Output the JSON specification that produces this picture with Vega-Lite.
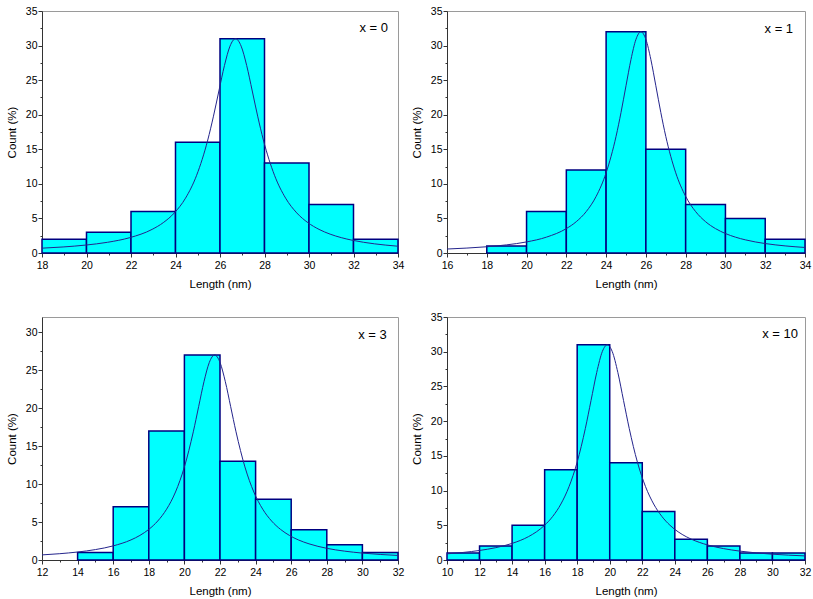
{
  "$schema": "https://vega.github.io/schema/vega-lite/v6.json",
  "background": "white",
  "padding": {"left": 5, "top": 5, "right": 5, "bottom": 5},
  "columns": 2,
  "spacing": {"row": 64, "column": 49},
  "bounds": "flush",
  "datasets": {
    "bars0": [
      {"start": 18, "end": 20, "count": 2}, {"start": 20, "end": 22, "count": 3}, {"start": 22, "end": 24, "count": 6},
      {"start": 24, "end": 26, "count": 16}, {"start": 26, "end": 28, "count": 31}, {"start": 28, "end": 30, "count": 13},
      {"start": 30, "end": 32, "count": 7}, {"start": 32, "end": 34, "count": 2}
    ],
    "fit0": [
      {"length": 18, "fit": 0.70}, {"length": 18.95, "fit": 0.874}, {"length": 19.95, "fit": 1.142}, {"length": 20.95, "fit": 1.552},
      {"length": 21.95, "fit": 2.222}, {"length": 22.95, "fit": 3.418}, {"length": 23.45, "fit": 4.389}, {"length": 23.95, "fit": 5.80},
      {"length": 24.45, "fit": 7.93}, {"length": 24.95, "fit": 11.24}, {"length": 25.45, "fit": 16.34}, {"length": 25.7, "fit": 19.69},
      {"length": 25.95, "fit": 23.43}, {"length": 26.2, "fit": 27.11}, {"length": 26.45, "fit": 29.92}, {"length": 26.7, "fit": 31},
      {"length": 26.95, "fit": 29.92}, {"length": 27.2, "fit": 27.11}, {"length": 27.45, "fit": 23.43}, {"length": 27.7, "fit": 19.69},
      {"length": 27.95, "fit": 16.34}, {"length": 28.45, "fit": 11.24}, {"length": 28.95, "fit": 7.93}, {"length": 29.45, "fit": 5.80},
      {"length": 29.95, "fit": 4.389}, {"length": 30.45, "fit": 3.418}, {"length": 30.95, "fit": 2.727}, {"length": 31.45, "fit": 2.222},
      {"length": 31.95, "fit": 1.844}, {"length": 32.45, "fit": 1.552}, {"length": 32.95, "fit": 1.323}, {"length": 33.45, "fit": 1.142},
      {"length": 34, "fit": 0.98}
    ],
    "bars1": [
      {"start": 18, "end": 20, "count": 1}, {"start": 20, "end": 22, "count": 6}, {"start": 22, "end": 24, "count": 12},
      {"start": 24, "end": 26, "count": 32}, {"start": 26, "end": 28, "count": 15}, {"start": 28, "end": 30, "count": 7},
      {"start": 30, "end": 32, "count": 5}, {"start": 32, "end": 34, "count": 2}
    ],
    "fit1": [
      {"length": 16, "fit": 0.576}, {"length": 17, "fit": 0.712}, {"length": 18, "fit": 0.902}, {"length": 19, "fit": 1.179},
      {"length": 20, "fit": 1.602}, {"length": 21, "fit": 2.294}, {"length": 22, "fit": 3.528}, {"length": 22.5, "fit": 4.531},
      {"length": 23, "fit": 5.99}, {"length": 23.5, "fit": 8.19}, {"length": 24, "fit": 11.60}, {"length": 24.5, "fit": 16.87},
      {"length": 24.75, "fit": 20.33}, {"length": 25, "fit": 24.19}, {"length": 25.25, "fit": 27.98}, {"length": 25.5, "fit": 30.89},
      {"length": 25.75, "fit": 32}, {"length": 26, "fit": 30.89}, {"length": 26.25, "fit": 27.98}, {"length": 26.5, "fit": 24.19},
      {"length": 26.75, "fit": 20.33}, {"length": 27, "fit": 16.87}, {"length": 27.5, "fit": 11.60}, {"length": 28, "fit": 8.19},
      {"length": 28.5, "fit": 5.99}, {"length": 29, "fit": 4.531}, {"length": 29.5, "fit": 3.528}, {"length": 30, "fit": 2.815},
      {"length": 30.5, "fit": 2.294}, {"length": 31, "fit": 1.903}, {"length": 31.5, "fit": 1.602}, {"length": 32, "fit": 1.366},
      {"length": 32.5, "fit": 1.179}, {"length": 33, "fit": 1.027}, {"length": 33.5, "fit": 0.902}, {"length": 34, "fit": 0.799}
    ],
    "bars3": [
      {"start": 14, "end": 16, "count": 1}, {"start": 16, "end": 18, "count": 7}, {"start": 18, "end": 20, "count": 17},
      {"start": 20, "end": 22, "count": 27}, {"start": 22, "end": 24, "count": 13}, {"start": 24, "end": 26, "count": 8},
      {"start": 26, "end": 28, "count": 4}, {"start": 28, "end": 30, "count": 2}, {"start": 30, "end": 32, "count": 1}
    ],
    "fit3": [
      {"length": 12, "fit": 0.672}, {"length": 13, "fit": 0.831}, {"length": 14, "fit": 1.051}, {"length": 15, "fit": 1.372},
      {"length": 16, "fit": 1.859}, {"length": 17, "fit": 2.648}, {"length": 17.5, "fit": 3.237}, {"length": 18, "fit": 4.031},
      {"length": 18.5, "fit": 5.131}, {"length": 19, "fit": 6.693}, {"length": 19.5, "fit": 8.955}, {"length": 20, "fit": 12.26},
      {"length": 20.5, "fit": 16.88}, {"length": 20.8, "fit": 20.19}, {"length": 21.1, "fit": 23.48}, {"length": 21.4, "fit": 26.02},
      {"length": 21.7, "fit": 27}, {"length": 22.0, "fit": 26.02}, {"length": 22.3, "fit": 23.48}, {"length": 22.6, "fit": 20.19},
      {"length": 22.9, "fit": 16.88}, {"length": 23.4, "fit": 12.26}, {"length": 23.9, "fit": 8.955}, {"length": 24.4, "fit": 6.693},
      {"length": 24.9, "fit": 5.131}, {"length": 25.4, "fit": 4.031}, {"length": 25.9, "fit": 3.237}, {"length": 26.4, "fit": 2.648},
      {"length": 27, "fit": 2.128}, {"length": 28, "fit": 1.541}, {"length": 29, "fit": 1.165}, {"length": 30, "fit": 0.910},
      {"length": 31, "fit": 0.730}, {"length": 32, "fit": 0.598}
    ],
    "bars10": [
      {"start": 10, "end": 12, "count": 1}, {"start": 12, "end": 14, "count": 2}, {"start": 14, "end": 16, "count": 5},
      {"start": 16, "end": 18, "count": 13}, {"start": 18, "end": 20, "count": 31}, {"start": 20, "end": 22, "count": 14},
      {"start": 22, "end": 24, "count": 7}, {"start": 24, "end": 26, "count": 3}, {"start": 26, "end": 28, "count": 2},
      {"start": 28, "end": 30, "count": 1}, {"start": 30, "end": 32, "count": 1}
    ],
    "fit10": [
      {"length": 10, "fit": 0.886}, {"length": 11, "fit": 1.091}, {"length": 12, "fit": 1.373}, {"length": 13, "fit": 1.779},
      {"length": 14, "fit": 2.388}, {"length": 15, "fit": 3.356}, {"length": 15.5, "fit": 4.065}, {"length": 16, "fit": 5.008},
      {"length": 16.5, "fit": 6.289}, {"length": 17, "fit": 8.065}, {"length": 17.5, "fit": 10.57}, {"length": 18, "fit": 14.10},
      {"length": 18.5, "fit": 18.93}, {"length": 18.85, "fit": 22.96}, {"length": 19.2, "fit": 27.0}, {"length": 19.55, "fit": 30.05},
      {"length": 19.85, "fit": 31}, {"length": 20.15, "fit": 30.05}, {"length": 20.5, "fit": 27.0}, {"length": 20.85, "fit": 22.96},
      {"length": 21.2, "fit": 18.93}, {"length": 21.7, "fit": 14.10}, {"length": 22.2, "fit": 10.57}, {"length": 22.7, "fit": 8.065},
      {"length": 23.2, "fit": 6.289}, {"length": 23.7, "fit": 5.008}, {"length": 24.2, "fit": 4.065}, {"length": 24.7, "fit": 3.356},
      {"length": 25, "fit": 3.013}, {"length": 26, "fit": 2.177}, {"length": 27, "fit": 1.640}, {"length": 28, "fit": 1.278},
      {"length": 29, "fit": 1.023}, {"length": 30, "fit": 0.836}, {"length": 31, "fit": 0.696}, {"length": 32, "fit": 0.588}
    ]
  },
  "concat": [
    {
      "width": 356, "height": 242,
      "layer": [
        {
          "data": {"name": "bars0"},
          "mark": {"type": "bar", "fill": "#00FFFF", "stroke": "#000080", "strokeWidth": 1.5},
          "encoding": {
            "x": {"field": "start", "type": "quantitative", "title": "Length (nm)", "scale": {"domain": [18, 34], "nice": false, "zero": false},
                  "axis": {"values": [18,19,20,21,22,23,24,25,26,27,28,29,30,31,32,33,34], "labelExpr": "datum.value % 2 == 0 ? datum.label : ''", "tickSize": {"condition": {"test": "datum.value % 2 != 0", "value": 2}, "value": 4}}},
            "x2": {"field": "end"},
            "y": {"field": "count", "type": "quantitative", "title": "Count (%)", "scale": {"domain": [0, 35], "nice": false},
                  "axis": {"values": [0,2.5,5,7.5,10,12.5,15,17.5,20,22.5,25,27.5,30,32.5,35], "labelExpr": "datum.value % 5 == 0 ? datum.label : ''", "tickSize": {"condition": {"test": "datum.value % 5 != 0", "value": 2}, "value": 4}}},
            "y2": {"datum": 0}
          }
        },
        {
          "data": {"name": "fit0"},
          "mark": {"type": "line", "interpolate": "monotone", "color": "#24248c", "strokeWidth": 1},
          "encoding": {
            "x": {"field": "length", "type": "quantitative", "title": "Length (nm)",
                  "axis": {"values": [18,19,20,21,22,23,24,25,26,27,28,29,30,31,32,33,34], "labelExpr": "datum.value % 2 == 0 ? datum.label : ''", "tickSize": {"condition": {"test": "datum.value % 2 != 0", "value": 2}, "value": 4}}},
            "y": {"field": "fit", "type": "quantitative", "title": "Count (%)",
                  "axis": {"values": [0,2.5,5,7.5,10,12.5,15,17.5,20,22.5,25,27.5,30,32.5,35], "labelExpr": "datum.value % 5 == 0 ? datum.label : ''", "tickSize": {"condition": {"test": "datum.value % 5 != 0", "value": 2}, "value": 4}}}
          }
        },
        {
          "data": {"values": [{"label": "x = 0"}]},
          "mark": {"type": "text", "align": "right", "baseline": "middle", "fontSize": 13, "font": "Liberation Sans", "color": "#000"},
          "encoding": {
            "x": {"datum": 33.55, "type": "quantitative", "title": "Length (nm)",
                  "axis": {"values": [18,19,20,21,22,23,24,25,26,27,28,29,30,31,32,33,34], "labelExpr": "datum.value % 2 == 0 ? datum.label : ''", "tickSize": {"condition": {"test": "datum.value % 2 != 0", "value": 2}, "value": 4}}},
            "y": {"datum": 32.5, "type": "quantitative", "title": "Count (%)",
                  "axis": {"values": [0,2.5,5,7.5,10,12.5,15,17.5,20,22.5,25,27.5,30,32.5,35], "labelExpr": "datum.value % 5 == 0 ? datum.label : ''", "tickSize": {"condition": {"test": "datum.value % 5 != 0", "value": 2}, "value": 4}}},
            "text": {"field": "label"}
          }
        }
      ]
    },
    {
      "width": 358, "height": 242,
      "layer": [
        {
          "data": {"name": "bars1"},
          "mark": {"type": "bar", "fill": "#00FFFF", "stroke": "#000080", "strokeWidth": 1.5},
          "encoding": {
            "x": {"field": "start", "type": "quantitative", "title": "Length (nm)", "scale": {"domain": [16, 34], "nice": false, "zero": false},
                  "axis": {"values": [16,17,18,19,20,21,22,23,24,25,26,27,28,29,30,31,32,33,34], "labelExpr": "datum.value % 2 == 0 ? datum.label : ''", "tickSize": {"condition": {"test": "datum.value % 2 != 0", "value": 2}, "value": 4}}},
            "x2": {"field": "end"},
            "y": {"field": "count", "type": "quantitative", "title": "Count (%)", "scale": {"domain": [0, 35], "nice": false},
                  "axis": {"values": [0,2.5,5,7.5,10,12.5,15,17.5,20,22.5,25,27.5,30,32.5,35], "labelExpr": "datum.value % 5 == 0 ? datum.label : ''", "tickSize": {"condition": {"test": "datum.value % 5 != 0", "value": 2}, "value": 4}}},
            "y2": {"datum": 0}
          }
        },
        {
          "data": {"name": "fit1"},
          "mark": {"type": "line", "interpolate": "monotone", "color": "#24248c", "strokeWidth": 1},
          "encoding": {
            "x": {"field": "length", "type": "quantitative", "title": "Length (nm)",
                  "axis": {"values": [16,17,18,19,20,21,22,23,24,25,26,27,28,29,30,31,32,33,34], "labelExpr": "datum.value % 2 == 0 ? datum.label : ''", "tickSize": {"condition": {"test": "datum.value % 2 != 0", "value": 2}, "value": 4}}},
            "y": {"field": "fit", "type": "quantitative", "title": "Count (%)",
                  "axis": {"values": [0,2.5,5,7.5,10,12.5,15,17.5,20,22.5,25,27.5,30,32.5,35], "labelExpr": "datum.value % 5 == 0 ? datum.label : ''", "tickSize": {"condition": {"test": "datum.value % 5 != 0", "value": 2}, "value": 4}}}
          }
        },
        {
          "data": {"values": [{"label": "x = 1"}]},
          "mark": {"type": "text", "align": "right", "baseline": "middle", "fontSize": 13, "font": "Liberation Sans", "color": "#000"},
          "encoding": {
            "x": {"datum": 33.4, "type": "quantitative", "title": "Length (nm)",
                  "axis": {"values": [16,17,18,19,20,21,22,23,24,25,26,27,28,29,30,31,32,33,34], "labelExpr": "datum.value % 2 == 0 ? datum.label : ''", "tickSize": {"condition": {"test": "datum.value % 2 != 0", "value": 2}, "value": 4}}},
            "y": {"datum": 32.4, "type": "quantitative", "title": "Count (%)",
                  "axis": {"values": [0,2.5,5,7.5,10,12.5,15,17.5,20,22.5,25,27.5,30,32.5,35], "labelExpr": "datum.value % 5 == 0 ? datum.label : ''", "tickSize": {"condition": {"test": "datum.value % 5 != 0", "value": 2}, "value": 4}}},
            "text": {"field": "label"}
          }
        }
      ]
    },
    {
      "width": 356, "height": 243,
      "layer": [
        {
          "data": {"name": "bars3"},
          "mark": {"type": "bar", "fill": "#00FFFF", "stroke": "#000080", "strokeWidth": 1.5},
          "encoding": {
            "x": {"field": "start", "type": "quantitative", "title": "Length (nm)", "scale": {"domain": [12, 32], "nice": false, "zero": false},
                  "axis": {"values": [12,13,14,15,16,17,18,19,20,21,22,23,24,25,26,27,28,29,30,31,32], "labelExpr": "datum.value % 2 == 0 ? datum.label : ''", "tickSize": {"condition": {"test": "datum.value % 2 != 0", "value": 2}, "value": 4}}},
            "x2": {"field": "end"},
            "y": {"field": "count", "type": "quantitative", "title": "Count (%)", "scale": {"domain": [0, 32], "nice": false},
                  "axis": {"values": [0,2.5,5,7.5,10,12.5,15,17.5,20,22.5,25,27.5,30], "labelExpr": "datum.value % 5 == 0 ? datum.label : ''", "tickSize": {"condition": {"test": "datum.value % 5 != 0", "value": 2}, "value": 4}}},
            "y2": {"datum": 0}
          }
        },
        {
          "data": {"name": "fit3"},
          "mark": {"type": "line", "interpolate": "monotone", "color": "#24248c", "strokeWidth": 1},
          "encoding": {
            "x": {"field": "length", "type": "quantitative", "title": "Length (nm)",
                  "axis": {"values": [12,13,14,15,16,17,18,19,20,21,22,23,24,25,26,27,28,29,30,31,32], "labelExpr": "datum.value % 2 == 0 ? datum.label : ''", "tickSize": {"condition": {"test": "datum.value % 2 != 0", "value": 2}, "value": 4}}},
            "y": {"field": "fit", "type": "quantitative", "title": "Count (%)",
                  "axis": {"values": [0,2.5,5,7.5,10,12.5,15,17.5,20,22.5,25,27.5,30], "labelExpr": "datum.value % 5 == 0 ? datum.label : ''", "tickSize": {"condition": {"test": "datum.value % 5 != 0", "value": 2}, "value": 4}}}
          }
        },
        {
          "data": {"values": [{"label": "x = 3"}]},
          "mark": {"type": "text", "align": "right", "baseline": "middle", "fontSize": 13, "font": "Liberation Sans", "color": "#000"},
          "encoding": {
            "x": {"datum": 31.37, "type": "quantitative", "title": "Length (nm)",
                  "axis": {"values": [12,13,14,15,16,17,18,19,20,21,22,23,24,25,26,27,28,29,30,31,32], "labelExpr": "datum.value % 2 == 0 ? datum.label : ''", "tickSize": {"condition": {"test": "datum.value % 2 != 0", "value": 2}, "value": 4}}},
            "y": {"datum": 29.6, "type": "quantitative", "title": "Count (%)",
                  "axis": {"values": [0,2.5,5,7.5,10,12.5,15,17.5,20,22.5,25,27.5,30], "labelExpr": "datum.value % 5 == 0 ? datum.label : ''", "tickSize": {"condition": {"test": "datum.value % 5 != 0", "value": 2}, "value": 4}}},
            "text": {"field": "label"}
          }
        }
      ]
    },
    {
      "width": 358, "height": 243,
      "layer": [
        {
          "data": {"name": "bars10"},
          "mark": {"type": "bar", "fill": "#00FFFF", "stroke": "#000080", "strokeWidth": 1.5},
          "encoding": {
            "x": {"field": "start", "type": "quantitative", "title": "Length (nm)", "scale": {"domain": [10, 32], "nice": false, "zero": false},
                  "axis": {"values": [10,11,12,13,14,15,16,17,18,19,20,21,22,23,24,25,26,27,28,29,30,31,32], "labelExpr": "datum.value % 2 == 0 ? datum.label : ''", "tickSize": {"condition": {"test": "datum.value % 2 != 0", "value": 2}, "value": 4}}},
            "x2": {"field": "end"},
            "y": {"field": "count", "type": "quantitative", "title": "Count (%)", "scale": {"domain": [0, 35], "nice": false},
                  "axis": {"values": [0,2.5,5,7.5,10,12.5,15,17.5,20,22.5,25,27.5,30,32.5,35], "labelExpr": "datum.value % 5 == 0 ? datum.label : ''", "tickSize": {"condition": {"test": "datum.value % 5 != 0", "value": 2}, "value": 4}}},
            "y2": {"datum": 0}
          }
        },
        {
          "data": {"name": "fit10"},
          "mark": {"type": "line", "interpolate": "monotone", "color": "#24248c", "strokeWidth": 1},
          "encoding": {
            "x": {"field": "length", "type": "quantitative", "title": "Length (nm)",
                  "axis": {"values": [10,11,12,13,14,15,16,17,18,19,20,21,22,23,24,25,26,27,28,29,30,31,32], "labelExpr": "datum.value % 2 == 0 ? datum.label : ''", "tickSize": {"condition": {"test": "datum.value % 2 != 0", "value": 2}, "value": 4}}},
            "y": {"field": "fit", "type": "quantitative", "title": "Count (%)",
                  "axis": {"values": [0,2.5,5,7.5,10,12.5,15,17.5,20,22.5,25,27.5,30,32.5,35], "labelExpr": "datum.value % 5 == 0 ? datum.label : ''", "tickSize": {"condition": {"test": "datum.value % 5 != 0", "value": 2}, "value": 4}}}
          }
        },
        {
          "data": {"values": [{"label": "x = 10"}]},
          "mark": {"type": "text", "align": "right", "baseline": "middle", "fontSize": 13, "font": "Liberation Sans", "color": "#000"},
          "encoding": {
            "x": {"datum": 31.57, "type": "quantitative", "title": "Length (nm)",
                  "axis": {"values": [10,11,12,13,14,15,16,17,18,19,20,21,22,23,24,25,26,27,28,29,30,31,32], "labelExpr": "datum.value % 2 == 0 ? datum.label : ''", "tickSize": {"condition": {"test": "datum.value % 2 != 0", "value": 2}, "value": 4}}},
            "y": {"datum": 32.6, "type": "quantitative", "title": "Count (%)",
                  "axis": {"values": [0,2.5,5,7.5,10,12.5,15,17.5,20,22.5,25,27.5,30,32.5,35], "labelExpr": "datum.value % 5 == 0 ? datum.label : ''", "tickSize": {"condition": {"test": "datum.value % 5 != 0", "value": 2}, "value": 4}}},
            "text": {"field": "label"}
          }
        }
      ]
    }
  ],
  "config": {
    "font": "Liberation Sans",
    "view": {"stroke": "#9a9a9a", "strokeWidth": 1},
    "axis": {
      "domainColor": "#333333", "tickColor": "#333333", "labelColor": "#000000", "titleColor": "#000000",
      "labelFont": "Liberation Sans", "titleFont": "Liberation Sans", "labelFontSize": 10.5, "titleFontSize": 11.5,
      "titleFontWeight": "normal", "grid": false,
      "labelFlush": false, "labelOverlap": false
    },
    "axisX": {"labelPadding": 3, "titlePadding": 8},
    "axisY": {"labelPadding": 1, "titlePadding": 8}
  }
}
